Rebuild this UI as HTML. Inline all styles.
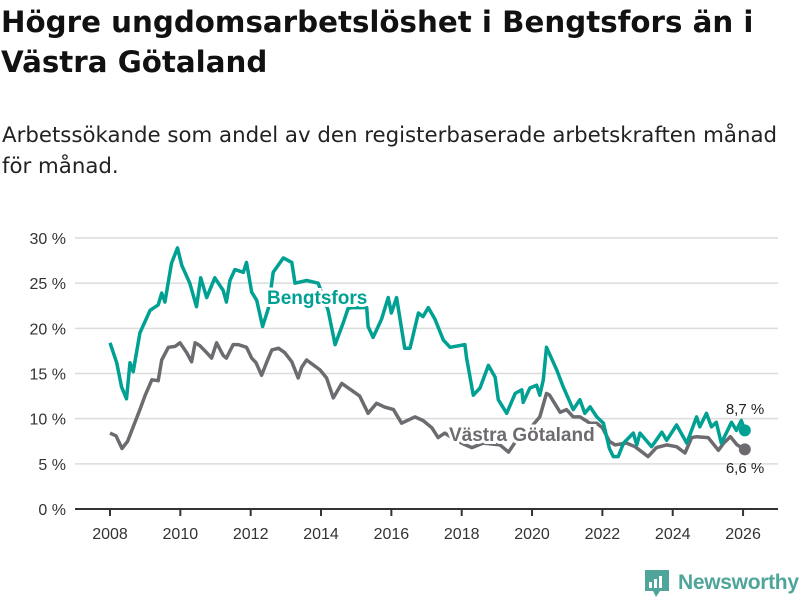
<!DOCTYPE html>
<html><head><meta charset="utf-8"><style>
body{margin:0;width:800px;height:600px;background:#fff;font-family:"Liberation Sans","DejaVu Sans",sans-serif;overflow:hidden;position:relative}
h1{position:absolute;left:1px;top:2px;margin:0;font-family:"DejaVu Sans",sans-serif;font-size:29.3px;line-height:40px;font-weight:bold;color:#111;white-space:nowrap}
.sub{position:absolute;left:2px;top:120px;margin:0;font-family:"DejaVu Sans",sans-serif;font-size:21.3px;line-height:31px;color:#222;white-space:nowrap}
svg{position:absolute;left:0;top:0}
</style></head><body>
<h1>Högre ungdomsarbetslöshet i Bengtsfors än i<br>Västra Götaland</h1>
<p class="sub">Arbetssökande som andel av den registerbaserade arbetskraften månad<br>för månad.</p>
<svg id="chart" width="800" height="600"></svg>
<script>
const yTicks=[0,5,10,15,20,25,30];
const yTickLabels=["0 %","5 %","10 %","15 %","20 %","25 %","30 %"];
const xTicks=[2008,2010,2012,2014,2016,2018,2020,2022,2024,2026];
const bYears=[2008.0,2008.19,2008.33,2008.47,2008.57,2008.66,2008.85,2009.14,2009.37,2009.47,2009.56,2009.75,2009.92,2010.04,2010.27,2010.46,2010.58,2010.75,2010.98,2011.22,2011.31,2011.41,2011.55,2011.79,2011.88,2012.03,2012.17,2012.34,2012.5,2012.64,2012.93,2013.17,2013.26,2013.59,2013.92,2014.2,2014.4,2014.63,2014.77,2014.87,2015.3,2015.34,2015.48,2015.72,2015.91,2016.0,2016.15,2016.38,2016.53,2016.77,2016.9,2017.05,2017.24,2017.48,2017.67,2018.09,2018.14,2018.33,2018.52,2018.76,2018.95,2019.04,2019.28,2019.52,2019.71,2019.75,2019.94,2020.13,2020.22,2020.32,2020.41,2020.7,2020.89,2021.17,2021.36,2021.5,2021.65,2021.84,2022.03,2022.2,2022.31,2022.45,2022.6,2022.88,2022.98,2023.07,2023.4,2023.69,2023.83,2024.11,2024.4,2024.68,2024.77,2024.96,2025.1,2025.24,2025.38,2025.67,2025.81,2025.95,2026.05];
const bValues=[18.4,16.2,13.5,12.2,16.2,15.2,19.5,22,22.6,23.9,22.9,27.2,28.9,27,25,22.4,25.6,23.4,25.6,24.2,22.9,25.3,26.5,26.2,27.3,24,23.1,20.2,22.2,26.2,27.8,27.3,25,25.3,25,22,18.2,20.6,22.2,22.3,22.3,20.2,19,21,23.4,21.7,23.4,17.8,17.8,21.7,21.3,22.3,21,18.7,17.9,18.2,16.7,12.6,13.4,15.9,14.6,12.1,10.6,12.8,13.2,11.8,13.4,13.7,12.6,14.3,17.9,15.4,13.5,11,12.1,10.6,11.3,10.2,9.5,6.7,5.8,5.8,7.3,8.4,7.1,8.4,6.9,8.5,7.6,9.3,7.3,10.2,9.1,10.6,9.1,9.6,7.3,9.6,8.7,9.8,8.7];
const vYears=[2008.0,2008.17,2008.34,2008.5,2008.68,2008.85,2009.0,2009.19,2009.37,2009.47,2009.66,2009.85,2009.99,2010.18,2010.32,2010.42,2010.55,2010.75,2010.89,2011.03,2011.22,2011.31,2011.5,2011.65,2011.88,2012.03,2012.15,2012.31,2012.45,2012.6,2012.79,2012.97,2013.17,2013.35,2013.45,2013.59,2013.97,2014.16,2014.35,2014.59,2014.92,2015.1,2015.34,2015.58,2015.8,2016.06,2016.29,2016.67,2016.9,2017.15,2017.33,2017.52,2017.8,2018.05,2018.29,2018.61,2019.09,2019.33,2019.52,2019.85,2020.22,2020.41,2020.5,2020.8,2020.98,2021.17,2021.36,2021.65,2021.84,2022.0,2022.2,2022.36,2022.69,2022.93,2023.3,2023.54,2023.83,2024.11,2024.35,2024.54,2024.68,2025.01,2025.3,2025.45,2025.64,2025.83,2026.05];
const vValues=[8.4,8.1,6.7,7.5,9.3,11,12.6,14.3,14.2,16.5,17.9,18,18.4,17.3,16.3,18.4,18.1,17.3,16.7,18.4,17,16.7,18.2,18.2,17.9,16.7,16.2,14.8,16.2,17.6,17.8,17.3,16.3,14.5,15.7,16.5,15.4,14.5,12.3,13.9,13,12.5,10.6,11.7,11.3,11,9.5,10.2,9.8,9,7.9,8.4,7.7,7.2,6.8,7.3,7.1,6.3,7.4,8.5,10.2,12.8,12.6,10.7,11,10.2,10.2,9.5,9.5,9,7.5,7.1,7.3,6.9,5.8,6.8,7.1,6.9,6.2,7.9,8,7.9,6.5,7.3,8,7.1,6.6];
const X0=75,X1=778,Y0=509;
function xs(t){return 110+(t-2008)*35.17;}
function ys(v){return Y0-v*9.033;}
const svg=document.getElementById('chart');const NS='http://www.w3.org/2000/svg';
function mk(tag,attrs,txt){const e=document.createElementNS(NS,tag);for(const k in attrs)e.setAttribute(k,attrs[k]);if(txt!==undefined)e.textContent=txt;svg.appendChild(e);return e;}
yTicks.forEach((v,i)=>{
 if(v>0){const g=mk('line',{x1:X0,x2:X1,y1:ys(v),y2:ys(v),stroke:'#dcdcdc','stroke-width':1.5});
 
 }
 const t=mk('text',{x:66,y:ys(v)+6,'text-anchor':'end','font-size':16,fill:'#333'},yTickLabels[i]);
 
 
});
const ax=mk('line',{x1:X0,x2:X1,y1:Y0,y2:Y0,stroke:'#333','stroke-width':2});


xTicks.forEach(y=>{
 const tk=mk('line',{x1:xs(y),x2:xs(y),y1:Y0,y2:Y0+7,stroke:'#333','stroke-width':2});
 
 
 const t=mk('text',{x:xs(y),y:539,'text-anchor':'middle','font-size':16,fill:'#333'},String(y));
 
 
});
function line(xsArr,vs,col,name){
 const d=xsArr.map((t,i)=>(i?'L':'M')+xs(t).toFixed(1)+','+ys(vs[i]).toFixed(1)).join('');
 const p=mk('path',{d:d,fill:'none',stroke:col,'stroke-width':3.5,'stroke-linejoin':'round'});
 
 
 const n=xsArr.length-1;
 const c=mk('circle',{cx:xs(xsArr[n]),cy:ys(vs[n]),r:6,fill:col});
 
 
}
line(vYears,vValues,'#6d6b70','vastra-gotaland-line');
line(bYears,bValues,'#00a093','bengtsfors-line');
function lab(x,y,txt,col,name,bold,anchor){
 const t=mk('text',{x:x,y:y,'font-size':bold?19:15,'font-weight':bold?'bold':'normal',fill:col,stroke:'#fff','stroke-width':bold?6:0,'paint-order':'stroke','text-anchor':anchor||'start'},txt);
 
 
}
lab(267,304,'Bengtsfors','#00a093','bengtsfors-label',true);
lab(449,441,'Västra Götaland','#6d6b70','vastra-gotaland-label',true);
lab(745,414,'8,7 %','#222','bengtsfors-end-value',false,'middle');
lab(745,473,'6,6 %','#222','vastra-gotaland-end-value',false,'middle');
</script>
<div style="position:absolute;left:645px;top:568px;height:30px;display:flex;align-items:center">
<svg width="24" height="30" viewBox="0 0 24 30" style="position:static"><path d="M0 2h24v21H15l-4 6-3-6H0z" fill="#4fa59a"/><rect x="4" y="14" width="3" height="6" fill="#fff"/><rect x="9" y="11" width="3" height="9" fill="#fff"/><rect x="14" y="8" width="3" height="12" fill="#fff"/></svg>
<span style="margin-left:9px;font-size:21px;color:#4fa59a;font-weight:bold;letter-spacing:-0.3px">Newsworthy</span></div>
</body></html>
